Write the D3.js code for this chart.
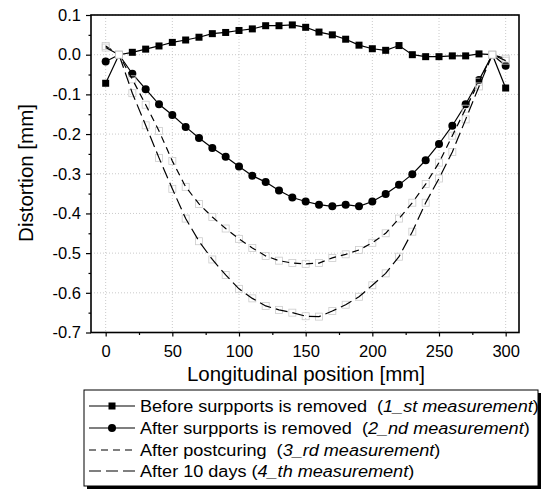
<!DOCTYPE html>
<html><head><meta charset="utf-8">
<script src="https://cdn.jsdelivr.net/npm/d3@7"></script>
<style>body{margin:0;background:#fff}svg{display:block}text{font-family:"Liberation Sans",Arial,Helvetica,sans-serif}</style>
</head><body>
<svg id="chart" width="546" height="489"></svg>
<script>
// ---- data ----
const positions = [0,10,20,30,40,50,60,70,80,90,100,110,120,130,140,150,160,170,180,190,200,210,220,230,240,250,260,270,280,290,300];
const supports = [10, 290];
const beforeRemoved = [-0.072,0.000,0.006,0.014,0.022,0.031,0.037,0.044,0.053,0.056,0.061,0.065,0.073,0.073,0.075,0.069,0.057,0.050,0.039,0.024,0.015,0.011,0.023,0.000,-0.005,-0.005,-0.003,-0.003,0.002,0.000,-0.084];
const afterRemoved = [-0.017,0.000,-0.048,-0.087,-0.125,-0.152,-0.182,-0.210,-0.235,-0.257,-0.282,-0.305,-0.321,-0.342,-0.360,-0.370,-0.378,-0.382,-0.378,-0.382,-0.370,-0.351,-0.328,-0.301,-0.266,-0.225,-0.179,-0.125,-0.064,0.000,-0.028];
const afterPostcuring = [0.022,0.000,-0.062,-0.126,-0.192,-0.268,-0.333,-0.376,-0.409,-0.438,-0.464,-0.487,-0.507,-0.519,-0.525,-0.527,-0.525,-0.512,-0.503,-0.492,-0.474,-0.450,-0.413,-0.373,-0.326,-0.272,-0.204,-0.136,-0.068,0.000,-0.010];
const after10Days = [0.018,0.000,-0.097,-0.178,-0.260,-0.338,-0.413,-0.470,-0.516,-0.555,-0.590,-0.614,-0.633,-0.643,-0.650,-0.659,-0.660,-0.646,-0.630,-0.610,-0.581,-0.551,-0.509,-0.446,-0.373,-0.312,-0.245,-0.163,-0.080,0.000,-0.015];
const legendMain = ["Before surpports is removed  (", "After surpports is removed  (", "After postcuring  (", "After 10 days ("];
const legendItalic = ["1_st measurement", "2_nd measurement", "3_rd measurement", "4_th measurement"];
const xTicks = [0,50,100,150,200,250,300];
const xMinorTicks = [25,75,125,175,225,275];
const yTicks = [0.1,0.0,-0.1,-0.2,-0.3,-0.4,-0.5,-0.6,-0.7];
const yMinorTicks = [0.05,-0.05,-0.15,-0.25,-0.35,-0.45,-0.55,-0.65];
const xTitle = "Longitudinal position [mm]";
const yTitle = "Distortion [mm]";

// ---- layout ----
const L = 91, R = 519, T = 15, B = 332.5;
const svg = d3.select("#chart");
const x = d3.scaleLinear().domain([-11, 310]).range([L, R]);
const y = d3.scaleLinear().domain([-0.7, 0.1]).range([B, T]);
const fmt = v => { const s = Math.abs(v).toFixed(1); return (v < -1e-9 ? "-" : "") + s; };

// grid
const grid = svg.append("g").attr("stroke", "#bcbcbc").attr("stroke-width", 0.8).attr("stroke-dasharray", "1,2");
grid.selectAll("line.v").data(xTicks).join("line").attr("class","v")
  .attr("x1", d => x(d)).attr("x2", d => x(d)).attr("y1", T).attr("y2", B);
grid.selectAll("line.h").data(yTicks).join("line").attr("class","h")
  .attr("x1", L).attr("x2", R).attr("y1", d => y(d)).attr("y2", d => y(d));

// axes
const xAxis = svg.append("g").attr("transform", `translate(0,${B})`)
  .call(d3.axisBottom(x).tickValues(xTicks).tickSize(4).tickPadding(9).tickFormat(d3.format("d")));
const xMinor = svg.append("g").attr("transform", `translate(0,${B})`)
  .call(d3.axisBottom(x).tickValues(xMinorTicks).tickSize(2.5).tickFormat(""));
const yAxis = svg.append("g").attr("transform", `translate(${L},0)`)
  .call(d3.axisLeft(y).tickValues(yTicks).tickSize(5).tickPadding(5).tickFormat(fmt));
const yMinor = svg.append("g").attr("transform", `translate(${L},0)`)
  .call(d3.axisLeft(y).tickValues(yMinorTicks).tickSize(2.5).tickFormat(""));
[xAxis, xMinor, yAxis, yMinor].forEach(g => {
  g.select(".domain").remove();
  g.selectAll(".tick line").attr("stroke", "#000").attr("stroke-width", 1.2);
  g.selectAll("text").attr("font-size", 16.5).attr("fill", "#000").attr("font-family", '"Liberation Sans",Arial,sans-serif');
});

// frame
svg.append("rect").attr("x", L).attr("y", T).attr("width", R - L).attr("height", B - T)
  .attr("fill", "none").attr("stroke", "#000").attr("stroke-width", 1.6);

// series
const series = [
  {vals: beforeRemoved, dash: null, marker: "square"},
  {vals: afterRemoved, dash: null, marker: "circle"},
  {vals: afterPostcuring, dash: "7,5", marker: "open"},
  {vals: after10Days, dash: "12,5", marker: "open"}
];
const line = d3.line().x(d => x(d[0])).y(d => y(d[1]));
series.forEach(s => {
  const pts = positions.map((p, i) => [p, s.vals[i]]);
  if (s.marker === "open") {
    svg.append("g").selectAll("rect").data(pts).join("rect")
      .attr("x", d => x(d[0]) - 3.5).attr("y", d => y(d[1]) - 3.5).attr("width", 7).attr("height", 7)
      .attr("fill", "none").attr("stroke", "#cccccc").attr("stroke-width", 0.8);
  }
  svg.append("path").datum(pts).attr("d", line).attr("fill", "none").attr("stroke", "#000")
    .attr("stroke-width", 1.2).attr("stroke-dasharray", s.dash);
  const mp = pts.filter(d => !supports.includes(d[0]));
  if (s.marker === "square") {
    svg.append("g").selectAll("rect").data(mp).join("rect")
      .attr("x", d => x(d[0]) - 3.5).attr("y", d => y(d[1]) - 3.5).attr("width", 7).attr("height", 7).attr("fill", "#000");
  } else if (s.marker === "circle") {
    svg.append("g").selectAll("circle").data(mp).join("circle")
      .attr("cx", d => x(d[0])).attr("cy", d => y(d[1])).attr("r", 4).attr("fill", "#000");
  }
});
// support points (hollow)
supports.forEach(p => {
  svg.append("rect").attr("x", x(p) - 3.5).attr("y", y(0) - 3.5).attr("width", 7).attr("height", 7)
    .attr("fill", "#fff").attr("stroke", "#bbb").attr("stroke-width", 0.8);
});

// titles
svg.append("text").attr("x", 306).attr("y", 381).attr("text-anchor", "middle").attr("font-size", 20.5).text(xTitle);
svg.append("text").attr("transform", "translate(33,173) rotate(-90)").attr("text-anchor", "middle").attr("font-size", 20.5).text(yTitle);

// legend
const LX = 84, LY = 390, LW = 454, LH = 96;
svg.append("rect").attr("x", LX + 3).attr("y", LY + 3).attr("width", LW).attr("height", LH).attr("fill", "#000");
svg.append("rect").attr("x", LX).attr("y", LY).attr("width", LW).attr("height", LH).attr("fill", "#fff").attr("stroke", "#000").attr("stroke-width", 1);
const rowY = [406, 428, 450, 471];
series.forEach((s, i) => {
  const cy = rowY[i];
  svg.append("line").attr("x1", 89).attr("x2", 135).attr("y1", cy).attr("y2", cy)
    .attr("stroke", "#000").attr("stroke-width", 1.2).attr("stroke-dasharray", s.dash);
  if (s.marker === "square") svg.append("rect").attr("x", 108.5).attr("y", cy - 3.5).attr("width", 7).attr("height", 7);
  if (s.marker === "circle") svg.append("circle").attr("cx", 112).attr("cy", cy).attr("r", 4);
  const t = svg.append("text").attr("transform", `translate(140,${cy + 5.5}) scale(1.13,1)`)
    .attr("font-size", 16).style("white-space", "pre");
  t.append("tspan").text(legendMain[i]);
  t.append("tspan").attr("font-style", "italic").text(legendItalic[i]);
  t.append("tspan").text(")");
});
</script>
</body></html>
